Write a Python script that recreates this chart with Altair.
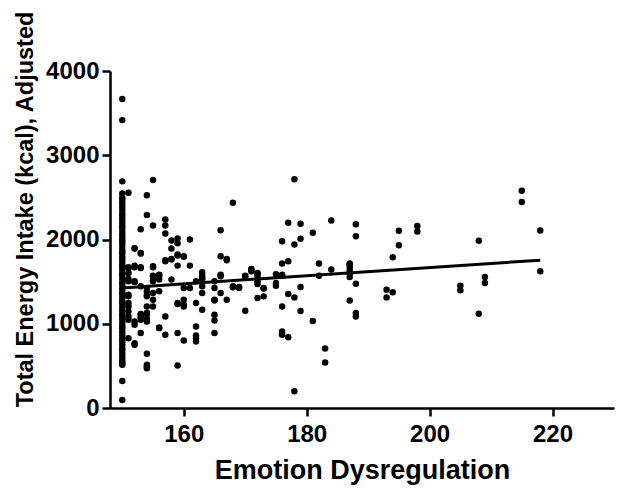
import altair as alt
import pandas as pd

# Emotion Dysregulation scores and the adjusted energy intake (kcal) read for each
scores = [150, 151, 152, 153, 154, 155, 156, 157, 158, 159, 160, 161, 162, 163,
          165, 166, 167, 168, 169, 170, 171, 172, 173, 175, 176, 177, 178, 179,
          181, 182, 183, 184, 187, 188, 193, 194, 195, 198, 205, 208, 209, 215, 218]

energy_by_score = [
    [3667, 3417, 2690, 2545, 2500, 2470, 2430, 2390, 2350, 2310, 2280, 2240, 2200,
     2160, 2130, 2090, 2050, 2010, 1980, 1940, 1900, 1860, 1830, 1790, 1750, 1710,
     1680, 1640, 1600, 1570, 1530, 1490, 1460, 1420, 1380, 1350, 1310, 1270, 1240,
     1200, 1160, 1120, 1090, 1050, 1010, 970, 940, 900, 860, 820, 790, 750, 710,
     680, 640, 600, 560, 530, 512, 321, 95],
    [2556, 1670, 1663, 1603, 1532, 1504, 1345, 1325, 1246, 1206, 1147, 1087, 1048, 829],
    [1896, 1893, 1690, 1670, 1504, 1496, 1027, 988, 770, 750],
    [2123, 1841, 1833, 1670, 1663, 1444, 1115, 1075, 1107, 1048, 889],
    [2524, 2290, 1425, 1385, 1345, 1325, 1206, 1127, 1115, 1060, 1027, 643, 512, 472, 492],
    [2706, 2167, 1682, 1670, 1571, 1563, 1515, 1504, 1365, 1286, 1206],
    [1583, 1571, 1524, 1385, 956, 948],
    [2238, 2167, 2071, 1754, 1742, 1087, 869],
    [1988, 1893, 1770, 1762, 1524],
    [2012, 1956, 1821, 1810, 1690, 1246, 1234, 889, 504],
    [1802, 1794, 1425, 1286, 1226, 1206, 801],
    [2000, 1690, 1425],
    [1504, 1246, 968, 861, 829, 789],
    [1610, 1571, 1544, 1524, 1444, 1365, 1167],
    [1504, 1425, 1286, 1277, 1107, 1039, 889],
    [2111, 1802, 1583, 1563, 1365],
    [1770, 1754, 1286],
    [2437, 1444, 1432],
    [1425, 1437],
    [1571, 1563, 1155],
    [1651, 1643, 1623],
    [1603, 1595, 1563, 1504, 1472, 1306],
    [1417, 1425, 1325],
    [1587, 1484, 1452],
    [1980, 1714, 1583, 1571, 1206, 908, 869],
    [2198, 1742, 1353, 841],
    [2714, 1940, 1313, 199],
    [2187, 2008, 1437, 1151],
    [2080, 1032],
    [1714, 1571],
    [706, 539],
    [2226, 1643],
    [1714, 1702, 1675, 1635, 1595, 1556, 1277],
    [2182, 2039, 1476, 1127, 1087],
    [1405, 1313],
    [1790, 1373],
    [2103, 1932],
    [2159, 2095],
    [1452, 1397],
    [1984, 1119],
    [1556, 1484],
    [2579, 2444],
    [2107, 1623],
]

# Fitted line end points
fit_x = [150, 218]
fit_y = [1425, 1754]

x_ticks = [160, 180, 200, 220]
y_ticks = [0, 1000, 2000, 3000, 4000]

rows = []
for s, vals in zip(scores, energy_by_score):
    for v in vals:
        rows.append({"x": s, "y": v})
df = pd.DataFrame(rows)
fit_df = pd.DataFrame({"x": fit_x, "y": fit_y})

FONT = "Liberation Sans, Arial, Helvetica, sans-serif"

x_enc = alt.X("x:Q",
              scale=alt.Scale(domain=[148, 230], nice=False, zero=False),
              axis=alt.Axis(values=x_ticks, title="Emotion Dysregulation", format="d",
                            titlePadding=11, labelPadding=6, titleFontSize=27))
y_enc = alt.Y("y:Q",
              scale=alt.Scale(domain=[0, 4000], nice=False),
              axis=alt.Axis(values=y_ticks, title="Total Energy Intake (kcal), Adjusted",
                            format="d", titlePadding=8, labelPadding=3, titleY=138,
                            titleFontSize=23.5))

points = alt.Chart(df).mark_circle(size=42, color="black", opacity=1).encode(x=x_enc, y=y_enc)
line = alt.Chart(fit_df).mark_line(color="black", strokeWidth=3).encode(x="x:Q", y="y:Q")

chart = (points + line).properties(
    width=504, height=337,
    autosize=alt.AutoSizeParams(type="none"),
    padding={"left": 102, "top": 63, "right": 2, "bottom": 80},
).configure_view(stroke=None).configure_axis(
    grid=False,
    domainColor="black", domainWidth=2.5,
    tickColor="black", tickWidth=2.5, tickSize=8,
    labelFont=FONT, labelFontSize=24, labelFontWeight="bold", labelColor="black",
    titleFont=FONT, titleFontWeight="bold", titleColor="black",
)

chart.save("out.html", embed_options={"renderer": "svg", "actions": False})
